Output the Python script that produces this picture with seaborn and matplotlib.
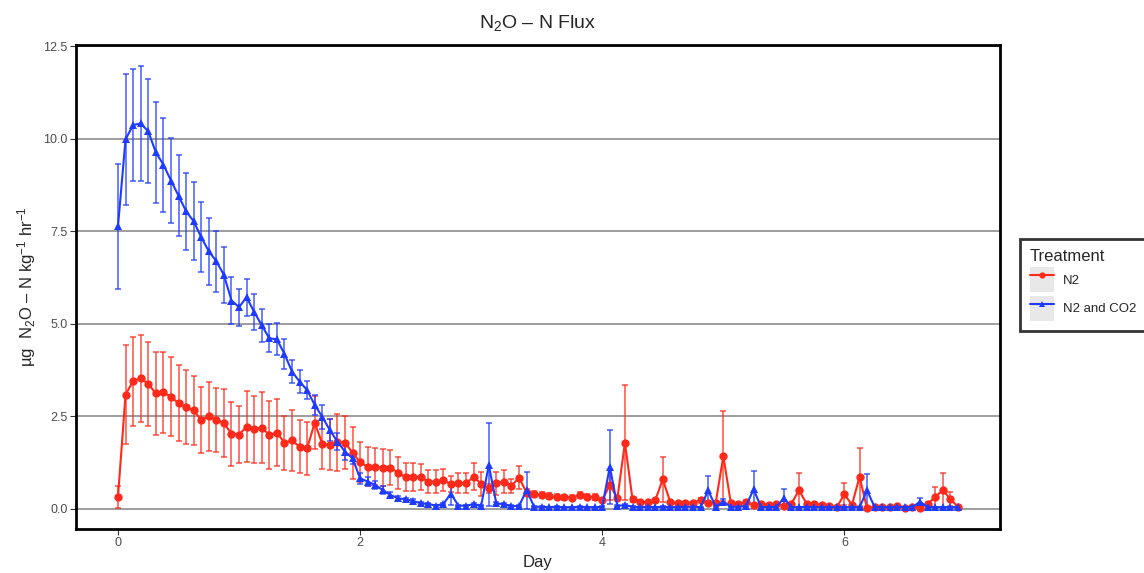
import numpy as np
import pandas as pd
import matplotlib
matplotlib.use('Agg')
import matplotlib.pyplot as plt
import seaborn as sns
from matplotlib.lines import Line2D
from matplotlib.patches import Rectangle
from matplotlib.legend_handler import HandlerTuple

# sampling every 1.5 h over 7 days
sample_hour = np.arange(0, 168, 1.5)
day = sample_hour / 24

treatments = ['N2', 'N2 and CO2']

n2_mean = [
    0.32, 3.09, 3.45, 3.53, 3.38, 3.12, 3.15, 3.03, 2.86, 2.75, 2.66, 2.41, 2.50, 2.41, 2.32, 2.03, 2.01, 2.22, 2.15, 2.20,
    2.00, 2.06, 1.79, 1.85, 1.68, 1.64, 2.33, 1.76, 1.73, 1.80, 1.79, 1.52, 1.26, 1.14, 1.14, 1.12, 1.12, 0.98, 0.86, 0.87,
    0.86, 0.74, 0.74, 0.78, 0.67, 0.71, 0.69, 0.87, 0.68, 0.56, 0.69, 0.74, 0.62, 0.85, 0.44, 0.40, 0.38, 0.35, 0.33, 0.32,
    0.31, 0.38, 0.33, 0.33, 0.24, 0.65, 0.29, 1.79, 0.26, 0.20, 0.18, 0.24, 0.80, 0.18, 0.15, 0.17, 0.17, 0.24, 0.15, 0.17,
    1.43, 0.15, 0.14, 0.20, 0.11, 0.14, 0.11, 0.14, 0.08, 0.14, 0.51, 0.14, 0.14, 0.11, 0.08, 0.05, 0.40, 0.11, 0.87, 0.02,
    0.06, 0.06, 0.06, 0.08, 0.04, 0.06, 0.04, 0.14, 0.32, 0.51, 0.27, 0.06]
n2_sd = [
    0.29, 1.33, 1.20, 1.18, 1.14, 1.13, 1.09, 1.07, 1.03, 0.99, 0.92, 0.89, 0.93, 0.87, 0.91, 0.87, 0.78, 0.96, 0.90, 0.97,
    0.92, 0.90, 0.73, 0.83, 0.72, 0.71, 0.72, 0.67, 0.69, 0.77, 0.72, 0.70, 0.54, 0.53, 0.50, 0.50, 0.46, 0.43, 0.37, 0.38,
    0.36, 0.32, 0.30, 0.30, 0.22, 0.27, 0.27, 0.37, 0.33, 0.12, 0.30, 0.32, 0.20, 0.32, 0.10, 0.08, 0.08, 0.08, 0.07, 0.07,
    0.07, 0.08, 0.07, 0.08, 0.05, 0.40, 0.05, 1.55, 0.06, 0.04, 0.03, 0.04, 0.60, 0.03, 0.03, 0.03, 0.03, 0.05, 0.03, 0.03,
    1.22, 0.03, 0.03, 0.04, 0.02, 0.03, 0.02, 0.03, 0.02, 0.03, 0.45, 0.03, 0.03, 0.02, 0.02, 0.02, 0.30, 0.03, 0.79, 0.02,
    0.02, 0.02, 0.02, 0.02, 0.02, 0.02, 0.02, 0.04, 0.27, 0.45, 0.20, 0.02]

co2_mean = [
    7.63, 9.98, 10.37, 10.41, 10.20, 9.63, 9.30, 8.87, 8.46, 8.04, 7.77, 7.34, 6.96, 6.69, 6.32, 5.63, 5.45, 5.72, 5.32, 4.96,
    4.61, 4.58, 4.19, 3.71, 3.44, 3.21, 2.81, 2.49, 2.13, 1.82, 1.55, 1.37, 0.83, 0.74, 0.65, 0.51, 0.38, 0.29, 0.26, 0.22,
    0.15, 0.14, 0.09, 0.14, 0.41, 0.09, 0.09, 0.13, 0.09, 1.19, 0.15, 0.13, 0.08, 0.08, 0.51, 0.06, 0.06, 0.05, 0.06, 0.05,
    0.05, 0.06, 0.05, 0.05, 0.06, 1.14, 0.08, 0.11, 0.06, 0.05, 0.06, 0.05, 0.06, 0.05, 0.05, 0.06, 0.06, 0.05, 0.50, 0.06,
    0.20, 0.06, 0.06, 0.08, 0.53, 0.05, 0.05, 0.06, 0.29, 0.05, 0.05, 0.06, 0.05, 0.05, 0.05, 0.05, 0.05, 0.05, 0.05, 0.50,
    0.05, 0.05, 0.05, 0.06, 0.05, 0.05, 0.20, 0.05, 0.05, 0.05, 0.05, 0.05]
co2_sd = [
    1.68, 1.77, 1.50, 1.56, 1.40, 1.36, 1.27, 1.15, 1.10, 1.04, 1.05, 0.95, 0.91, 0.82, 0.75, 0.64, 0.50, 0.50, 0.48, 0.45,
    0.38, 0.43, 0.40, 0.30, 0.31, 0.25, 0.27, 0.33, 0.30, 0.22, 0.22, 0.16, 0.15, 0.12, 0.10, 0.10, 0.07, 0.05, 0.04, 0.04,
    0.03, 0.03, 0.02, 0.03, 0.30, 0.02, 0.02, 0.03, 0.02, 1.12, 0.03, 0.02, 0.02, 0.02, 0.50, 0.01, 0.01, 0.01, 0.01, 0.01,
    0.01, 0.01, 0.01, 0.01, 0.01, 1.00, 0.02, 0.03, 0.01, 0.01, 0.01, 0.01, 0.01, 0.01, 0.01, 0.01, 0.01, 0.01, 0.40, 0.01,
    0.06, 0.01, 0.01, 0.02, 0.50, 0.01, 0.01, 0.01, 0.25, 0.01, 0.01, 0.01, 0.01, 0.01, 0.01, 0.01, 0.01, 0.01, 0.01, 0.45,
    0.01, 0.01, 0.01, 0.01, 0.01, 0.01, 0.10, 0.01, 0.01, 0.01, 0.01, 0.01]

colors = {'N2': '#FF2A1A', 'N2 and CO2': '#1F3BFF'}
markers = {'N2': 'o', 'N2 and CO2': '^'}

df = pd.DataFrame({
    'Day': np.concatenate([day, day]),
    'flux': n2_mean + co2_mean,
    'sd': n2_sd + co2_sd,
    'Treatment': ['N2'] * len(n2_mean) + ['N2 and CO2'] * len(co2_mean),
})

sns.set_theme(style='white')
plt.rcParams['font.family'] = ['Liberation Sans', 'DejaVu Sans']
plt.rcParams['mathtext.fontset'] = 'custom'
plt.rcParams['mathtext.rm'] = 'Liberation Sans'
plt.rcParams['mathtext.it'] = 'Liberation Sans:italic'
plt.rcParams['mathtext.bf'] = 'Liberation Sans:bold'

fig = plt.figure(figsize=(11.44, 5.73), dpi=100)
ax = fig.add_axes([0.0664, 0.0768, 0.8077, 0.8447])

# error bars
for t in treatments:
    sub = df[df['Treatment'] == t]
    ax.errorbar(sub['Day'], sub['flux'], yerr=sub['sd'], fmt='none',
                ecolor=colors[t], elinewidth=1.3, capsize=2.5, capthick=1.3,
                alpha=0.7, zorder=2)

sns.lineplot(data=df, x='Day', y='flux', hue='Treatment', style='Treatment',
             palette=colors, markers=markers, dashes=False, linewidth=1.5,
             markersize=6, markeredgewidth=0, legend=False, ax=ax, zorder=3)

ax.set_xlim(-0.347, 7.285)
ax.set_ylim(-0.54, 12.53)
ax.set_xticks([0, 2, 4, 6])
ax.set_yticks([0, 2.5, 5.0, 7.5, 10.0, 12.5])
ax.set_yticklabels(['0.0', '2.5', '5.0', '7.5', '10.0', '12.5'])
ax.yaxis.grid(True, color='#8c8c8c', linewidth=1.2)
ax.xaxis.grid(False)
ax.set_axisbelow(True)
for s in ax.spines.values():
    s.set_color('black')
    s.set_linewidth(2)
ax.tick_params(axis='both', which='major', length=4, width=0.8, color='#333333',
               labelsize=9, labelcolor='#4d4d4d', bottom=True, left=True, pad=2)

ax.set_title('N$_2$O – N Flux', fontsize=14, pad=12)
ax.set_xlabel('Day', fontsize=12)
ax.set_ylabel('µg  N$_2$O – N kg$^{-1}$ hr$^{-1}$', fontsize=12)

handles = []
for t in treatments:
    bg = Rectangle((0, 0), 1, 1, facecolor='#e8e8e8', edgecolor='none')
    ln = Line2D([], [], color=colors[t], marker=markers[t], markersize=4.5,
                markeredgewidth=0, linewidth=1.5)
    handles.append((bg, ln))
leg = fig.legend(handles, treatments, title='Treatment', loc='upper left',
                 bbox_to_anchor=(0.8916, 0.583), bbox_transform=fig.transFigure,
                 borderaxespad=0,
                 handler_map={tuple: HandlerTuple(ndivide=1, pad=0)},
                 fontsize=9.5, title_fontsize=12, frameon=True, fancybox=False,
                 handlelength=1.8, handleheight=2.55, handletextpad=0.7,
                 labelspacing=0.25, borderpad=0.75, alignment='left')
leg.get_frame().set_edgecolor('black')
leg.get_frame().set_linewidth(2)

plt.savefig('out.png', dpi=100)
